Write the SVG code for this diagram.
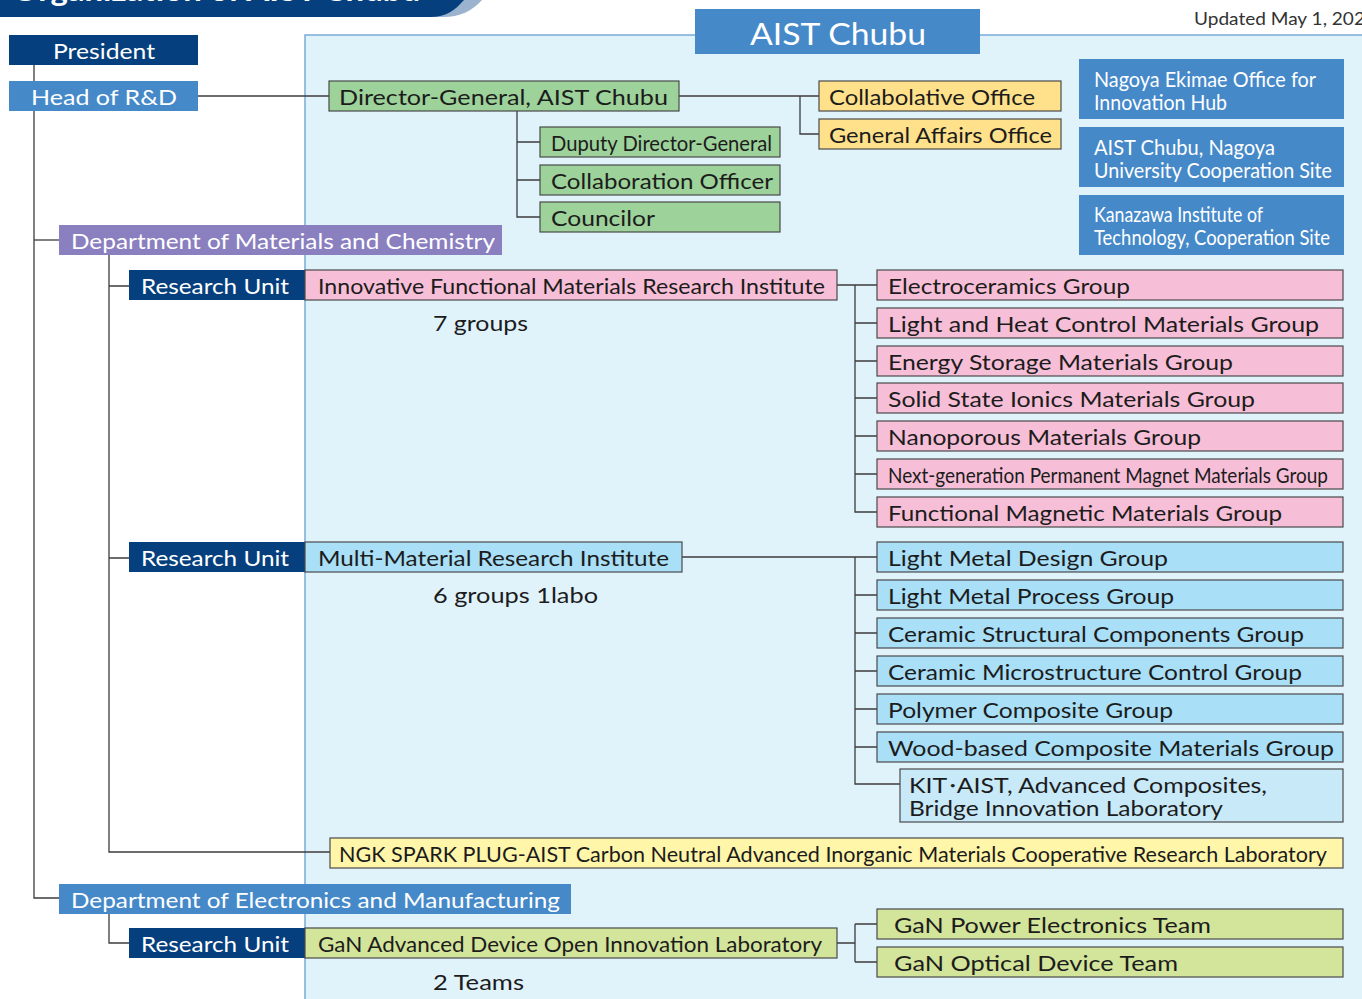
<svg xmlns="http://www.w3.org/2000/svg" width="1362" height="999" viewBox="0 0 1362 999">
<style>
.t{font-family:Lato,"Open Sans","Liberation Sans",sans-serif;font-size:22px;fill:#1c1c1c}
.c{font-size:21px}
.w{fill:#fff}
.bx{stroke:#4a4a4a;stroke-width:1.2}
.navy{fill:#063f7e}
.mblue{fill:#4589c9}
.pink{fill:#f7bfd7}
.lblue{fill:#a9dff7}
.green{fill:#9dd29a}
.yel{fill:#ffe18b}
.conn path{fill:none;stroke:#3c3c3c;stroke-width:1.3}
</style>
<rect width="1362" height="999" fill="#fff"/>
<!-- Banner -->
<g id="banner">
<path d="M0,0 H482 C472,11 460,17 443,17 H0 Z" fill="#9bb3cf"/>
<path d="M0,0 H464 C455,10 447,17 430,17 H0 Z" fill="#063f7e"/>
<text x="12" y="1" class="t w" style="font-size:30px;font-weight:bold" textLength="408" lengthAdjust="spacingAndGlyphs">Organization of AIST Chubu</text>
</g>
<text x="1194" y="25" class="t" style="font-size:17px;fill:#333" textLength="182" lengthAdjust="spacingAndGlyphs">Updated May 1, 2024</text>
<!-- Panel -->
<g id="panel">
<rect x="305" y="35" width="1070" height="980" fill="#e0f3fb" stroke="#78acd9" stroke-width="1.5"/>
<rect x="695" y="9" width="285" height="45" class="mblue"/>
<text x="750" y="45" class="t w" style="font-size:30px" textLength="176" lengthAdjust="spacingAndGlyphs">AIST Chubu</text>
</g>
<!-- Connectors -->
<g id="connectors" class="conn">
<path d="M34,65 V898 H59"/>
<path d="M34,240 H59"/>
<path d="M198,96 H329"/>
<path d="M679,96 H819 M800,96 V134 H819"/>
<path d="M517,111 V217 H540 M517,142 H540 M517,180 H540"/>
<path d="M109,255 V852 H330 M109,286 H129 M109,558 H129"/>
<path d="M837,285 H877 M855,285 V512 H877 M855,323 H877 M855,361 H877 M855,398 H877 M855,436 H877 M855,474 H877"/>
<path d="M682,557 H877 M855,557 V784 H900 M855,595 H877 M855,633 H877 M855,671 H877 M855,709 H877 M855,747 H877"/>
<path d="M109,914 V943 H129"/>
<path d="M837,943 H855 M855,924 V962 M855,924 H877 M855,962 H877"/>
</g>
<!-- Left hierarchy -->
<g id="president"><rect x="9" y="35" width="189" height="30" class="navy"/><text x="53" y="59" class="t w" textLength="102" lengthAdjust="spacingAndGlyphs">President</text></g>
<g id="head-rd"><rect x="9" y="81" width="189" height="30" class="mblue"/><text x="31" y="105" class="t w" textLength="146" lengthAdjust="spacingAndGlyphs">Head of R&amp;D</text></g>
<g id="director-general"><rect x="329" y="81" width="350" height="30" class="green bx"/><text x="339" y="105" class="t" textLength="329" lengthAdjust="spacingAndGlyphs">Director-General, AIST Chubu</text></g>
<g id="collabolative-office"><rect x="819" y="81" width="242" height="30" class="yel bx"/><text x="829" y="105" class="t" textLength="206" lengthAdjust="spacingAndGlyphs">Collabolative Office</text></g>
<g id="general-affairs"><rect x="819" y="119" width="242" height="30" class="yel bx"/><text x="829" y="143" class="t" textLength="223" lengthAdjust="spacingAndGlyphs">General Affairs Office</text></g>
<g id="deputy-dg"><rect x="540" y="127" width="240" height="30" class="green bx"/><text x="551" y="151" class="t" textLength="221" lengthAdjust="spacingAndGlyphs">Duputy Director-General</text></g>
<g id="collaboration-officer"><rect x="540" y="165" width="240" height="30" class="green bx"/><text x="551" y="189" class="t" textLength="222" lengthAdjust="spacingAndGlyphs">Collaboration Officer</text></g>
<g id="councilor"><rect x="540" y="202" width="240" height="30" class="green bx"/><text x="551" y="226" class="t" textLength="104" lengthAdjust="spacingAndGlyphs">Councilor</text></g>
<!-- Sites -->
<g id="site-nagoya-ekimae"><rect x="1079" y="59" width="265" height="60" class="mblue"/><text x="1094" y="87" class="t c w" textLength="222" lengthAdjust="spacingAndGlyphs">Nagoya Ekimae Office for</text><text x="1094" y="110" class="t c w" textLength="133" lengthAdjust="spacingAndGlyphs">Innovation Hub</text></g>
<g id="site-nagoya-univ"><rect x="1079" y="127" width="265" height="60" class="mblue"/><text x="1094" y="155" class="t c w" textLength="181" lengthAdjust="spacingAndGlyphs">AIST Chubu, Nagoya</text><text x="1094" y="178" class="t c w" textLength="238" lengthAdjust="spacingAndGlyphs">University Cooperation Site</text></g>
<g id="site-kanazawa"><rect x="1079" y="195" width="265" height="60" class="mblue"/><text x="1094" y="222" class="t c w" textLength="169" lengthAdjust="spacingAndGlyphs">Kanazawa Institute of</text><text x="1094" y="245" class="t c w" textLength="236" lengthAdjust="spacingAndGlyphs">Technology, Cooperation Site</text></g>
<!-- Department of Materials and Chemistry -->
<g id="dept-materials"><rect x="59" y="225" width="443" height="30" fill="#8a7fbf"/><text x="71" y="249" class="t w" textLength="424" lengthAdjust="spacingAndGlyphs">Department of Materials and Chemistry</text></g>
<g id="ru-ifm"><rect x="129" y="270" width="176" height="30" class="navy"/><text x="141" y="294" class="t w" textLength="148" lengthAdjust="spacingAndGlyphs">Research Unit</text>
<rect x="305" y="270" width="532" height="30" class="pink bx"/><text x="318" y="294" class="t" textLength="507" lengthAdjust="spacingAndGlyphs">Innovative Functional Materials Research Institute</text>
<text x="433" y="331" class="t" textLength="95" lengthAdjust="spacingAndGlyphs">7 groups</text></g>
<g id="g-electroceramics"><rect x="877" y="270" width="466" height="30" class="pink bx"/><text x="888" y="294" class="t" textLength="242" lengthAdjust="spacingAndGlyphs">Electroceramics Group</text></g>
<g id="g-light-heat"><rect x="877" y="308" width="466" height="30" class="pink bx"/><text x="888" y="332" class="t" textLength="431" lengthAdjust="spacingAndGlyphs">Light and Heat Control Materials Group</text></g>
<g id="g-energy-storage"><rect x="877" y="346" width="466" height="30" class="pink bx"/><text x="888" y="370" class="t" textLength="345" lengthAdjust="spacingAndGlyphs">Energy Storage Materials Group</text></g>
<g id="g-solid-state"><rect x="877" y="383" width="466" height="30" class="pink bx"/><text x="888" y="407" class="t" textLength="367" lengthAdjust="spacingAndGlyphs">Solid State Ionics Materials Group</text></g>
<g id="g-nanoporous"><rect x="877" y="421" width="466" height="30" class="pink bx"/><text x="888" y="445" class="t" textLength="313" lengthAdjust="spacingAndGlyphs">Nanoporous Materials Group</text></g>
<g id="g-next-gen"><rect x="877" y="459" width="466" height="30" class="pink bx"/><text x="888" y="483" class="t c" textLength="440" lengthAdjust="spacingAndGlyphs">Next-generation Permanent Magnet Materials Group</text></g>
<g id="g-functional-magnetic"><rect x="877" y="497" width="466" height="30" class="pink bx"/><text x="888" y="521" class="t" textLength="394" lengthAdjust="spacingAndGlyphs">Functional Magnetic Materials Group</text></g>
<g id="ru-mm"><rect x="129" y="542" width="176" height="30" class="navy"/><text x="141" y="566" class="t w" textLength="148" lengthAdjust="spacingAndGlyphs">Research Unit</text>
<rect x="305" y="542" width="377" height="30" class="lblue bx"/><text x="318" y="566" class="t" textLength="351" lengthAdjust="spacingAndGlyphs">Multi-Material Research Institute</text>
<text x="433" y="603" class="t" textLength="165" lengthAdjust="spacingAndGlyphs">6 groups 1labo</text></g>
<g id="g-lm-design"><rect x="877" y="542" width="466" height="30" class="lblue bx"/><text x="888" y="566" class="t" textLength="280" lengthAdjust="spacingAndGlyphs">Light Metal Design Group</text></g>
<g id="g-lm-process"><rect x="877" y="580" width="466" height="30" class="lblue bx"/><text x="888" y="604" class="t" textLength="286" lengthAdjust="spacingAndGlyphs">Light Metal Process Group</text></g>
<g id="g-ceramic-structural"><rect x="877" y="618" width="466" height="30" class="lblue bx"/><text x="888" y="642" class="t" textLength="416" lengthAdjust="spacingAndGlyphs">Ceramic Structural Components Group</text></g>
<g id="g-ceramic-micro"><rect x="877" y="656" width="466" height="30" class="lblue bx"/><text x="888" y="680" class="t" textLength="414" lengthAdjust="spacingAndGlyphs">Ceramic Microstructure Control Group</text></g>
<g id="g-polymer"><rect x="877" y="694" width="466" height="30" class="lblue bx"/><text x="888" y="718" class="t" textLength="285" lengthAdjust="spacingAndGlyphs">Polymer Composite Group</text></g>
<g id="g-wood"><rect x="877" y="732" width="466" height="30" class="lblue bx"/><text x="888" y="756" class="t" textLength="446" lengthAdjust="spacingAndGlyphs">Wood-based Composite Materials Group</text></g>
<g id="lab-kit"><rect x="900" y="769" width="443" height="53" fill="#c7e9f8" class="bx"/><text x="909" y="793" class="t c" textLength="358" lengthAdjust="spacingAndGlyphs"><tspan>KIT</tspan><tspan dx="-6">・</tspan><tspan dx="-7">AIST, Advanced Composites,</tspan></text><text x="909" y="816" class="t c" textLength="314" lengthAdjust="spacingAndGlyphs">Bridge Innovation Laboratory</text></g>
<g id="lab-ngk"><rect x="330" y="838" width="1013" height="30" fill="#fff6a9" class="bx"/><text x="339" y="862" class="t" textLength="988" lengthAdjust="spacingAndGlyphs">NGK SPARK PLUG-AIST Carbon Neutral Advanced Inorganic Materials Cooperative Research Laboratory</text></g>
<!-- Department of Electronics and Manufacturing -->
<g id="dept-electronics"><rect x="59" y="884" width="512" height="30" class="mblue"/><text x="71" y="908" class="t w" textLength="489" lengthAdjust="spacingAndGlyphs">Department of Electronics and Manufacturing</text></g>
<g id="ru-gan"><rect x="129" y="928" width="176" height="30" class="navy"/><text x="141" y="952" class="t w" textLength="148" lengthAdjust="spacingAndGlyphs">Research Unit</text>
<rect x="305" y="928" width="532" height="30" fill="#d3e49b" class="bx"/><text x="318" y="952" class="t" textLength="504" lengthAdjust="spacingAndGlyphs">GaN Advanced Device Open Innovation Laboratory</text>
<text x="433" y="990" class="t" textLength="91" lengthAdjust="spacingAndGlyphs">2 Teams</text></g>
<g id="t-gan-power"><rect x="877" y="909" width="466" height="30" fill="#d3e49b" class="bx"/><text x="894" y="933" class="t" textLength="317" lengthAdjust="spacingAndGlyphs">GaN Power Electronics Team</text></g>
<g id="t-gan-optical"><rect x="877" y="947" width="466" height="30" fill="#d3e49b" class="bx"/><text x="894" y="971" class="t" textLength="284" lengthAdjust="spacingAndGlyphs">GaN Optical Device Team</text></g>
</svg>
